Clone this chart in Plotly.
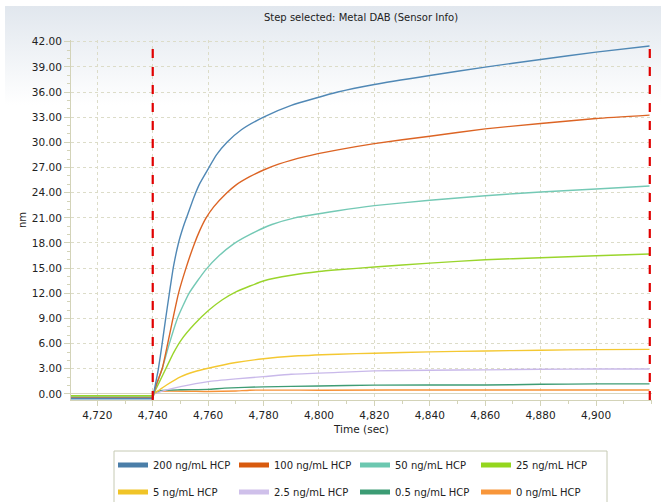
import base64
import plotly.graph_objects as go

# ---------------- data ----------------
series_names = ["200 ng/mL HCP", "100 ng/mL HCP", "50 ng/mL HCP", "25 ng/mL HCP",
                "5 ng/mL HCP", "2.5 ng/mL HCP", "0.5 ng/mL HCP", "0 ng/mL HCP"]

# baseline level before the association step starts (nm)
baseline_t = [4710.5, 4739.9, 4740.3]
baseline_200 = [-0.55, -0.55, 0.0]
baseline_100 = [-0.50, -0.50, 0.0]
baseline_50 = [-0.40, -0.40, 0.0]
baseline_25 = [-0.22, -0.22, 0.0]
baseline_5 = [-0.30, -0.30, 0.0]
baseline_2_5 = [-0.35, -0.35, 0.0]
baseline_0_5 = [-0.45, -0.45, 0.0]
baseline_0 = [-0.30, -0.30, 0.0]

t_200 = [4740.3, 4741.0, 4742.0, 4743.4, 4744.5, 4746.0, 4747.5, 4749.3, 4751.0, 4752.3,
         4754.8, 4757.0, 4760.3, 4763.0, 4766.8, 4772.0, 4780.0, 4790.0, 4806.8, 4820.0,
         4840.0, 4860.0, 4880.0, 4900.0, 4919.3]
v_200 = [0.0, 1.2, 2.9, 6.0, 8.6, 12.0, 15.2, 18.0, 19.9, 21.1,
         23.4, 25.1, 27.0, 28.5, 30.0, 31.5, 33.0, 34.4, 36.0, 36.9,
         37.97, 38.97, 39.88, 40.76, 41.48]

t_100 = [4740.3, 4741.5, 4743.4, 4745.4, 4747.3, 4749.3, 4752.0, 4754.9, 4757.0, 4759.1,
         4762.0, 4766.5, 4770.0, 4775.0, 4780.0, 4785.4, 4795.0, 4806.8, 4820.0, 4840.0,
         4860.0, 4880.0, 4900.0, 4919.3]
v_100 = [0.0, 1.3, 3.0, 6.0, 9.0, 12.0, 15.0, 17.8, 19.5, 20.9,
         22.3, 23.9, 24.9, 25.9, 26.7, 27.4, 28.3, 29.1, 29.85, 30.73,
         31.61, 32.24, 32.84, 33.24]

t_50 = [4740.3, 4741.5, 4743.4, 4746.0, 4748.9, 4753.1, 4759.1, 4764.0, 4769.2, 4775.0,
        4783.0, 4791.3, 4806.8, 4820.0, 4840.0, 4860.0, 4880.0, 4900.0, 4919.3]
v_50 = [0.0, 1.2, 3.0, 6.0, 9.0, 12.0, 14.8, 16.5, 17.9, 19.0,
        20.2, 21.0, 21.85, 22.45, 23.09, 23.64, 24.08, 24.44, 24.8]

t_25 = [4740.3, 4742.5, 4745.0, 4747.5, 4750.2, 4755.0, 4760.3, 4765.0, 4770.2, 4780.2,
        4790.0, 4800.0, 4806.8, 4820.0, 4840.0, 4860.0, 4880.0, 4900.0, 4919.3]
v_25 = [0.0, 1.5, 3.2, 4.9, 6.4, 8.3, 10.0, 11.2, 12.2, 13.5,
        14.15, 14.6, 14.8, 15.13, 15.6, 16.0, 16.24, 16.48, 16.68]

t_5 = [4740.3, 4742.5, 4745.0, 4750.2, 4755.0, 4760.0, 4770.0, 4780.0, 4790.0, 4806.8,
       4820.0, 4840.0, 4860.0, 4880.0, 4900.0, 4919.3]
v_5 = [0.0, 0.5, 1.07, 2.07, 2.65, 3.07, 3.75, 4.2, 4.5, 4.74,
       4.86, 5.02, 5.13, 5.21, 5.29, 5.32]

t_2_5 = [4740.3, 4745.0, 4750.0, 4760.0, 4770.0, 4780.0, 4790.0, 4806.8, 4820.0, 4840.0,
         4860.0, 4880.0, 4900.0, 4919.3]
v_2_5 = [0.0, 0.48, 0.87, 1.47, 1.8, 2.07, 2.35, 2.57, 2.75, 2.83,
         2.87, 2.95, 2.97, 2.97]

t_0_5 = [4740.3, 4743.0, 4750.0, 4760.0, 4766.0, 4780.0, 4800.0, 4820.0, 4860.0, 4880.0,
         4900.0, 4919.3]
v_0_5 = [0.0, 0.4, 0.5, 0.55, 0.7, 0.85, 0.95, 1.05, 1.07, 1.15, 1.2, 1.2]

t_0 = [4740.3, 4741.5, 4760.0, 4770.0, 4775.0, 4800.0, 4850.0, 4919.3]
v_0 = [0.0, 0.3, 0.3, 0.35, 0.45, 0.45, 0.48, 0.48]

step_times = [4740.0, 4919.4]

x_ticks = [4720, 4740, 4760, 4780, 4800, 4820, 4840, 4860, 4880, 4900]
y_ticks = [0, 3, 6, 9, 12, 15, 18, 21, 24, 27, 30, 33, 36, 39, 42]

line_colors = ["#5088b5", "#dc6424", "#74c9b5", "#9ad52c",
               "#f4c832", "#c9b9ea", "#3e9c74", "#f79238"]
legend_colors = ["#4a7ea8", "#d85a0e", "#6cc8b0", "#94d61e",
                 "#f0c428", "#cfc0ea", "#3c9c74", "#f8963a"]

# ---------------- figure ----------------
W, H = 661, 502
ML, MR, MT, MB = 71, 9, 40, 102
PW, PH = W - ML - MR, H - MT - MB
PLOT_BOTTOM = H - MB


def px_x(p):
    return (p - ML) / PW


def px_y(p):
    return (PLOT_BOTTOM - p) / PH


fig = go.Figure()

series = [
    (baseline_200, t_200, v_200),
    (baseline_100, t_100, v_100),
    (baseline_50, t_50, v_50),
    (baseline_25, t_25, v_25),
    (baseline_5, t_5, v_5),
    (baseline_2_5, t_2_5, v_2_5),
    (baseline_0_5, t_0_5, v_0_5),
    (baseline_0, t_0, v_0),
]

# baselines first (thin band), then association curves, low concentrations underneath
for i in reversed(range(len(series))):
    base, ts, vs = series[i]
    fig.add_trace(go.Scatter(x=baseline_t, y=base, mode="lines",
                             line=dict(color=line_colors[i], width=1.8),
                             showlegend=False, hoverinfo="skip"))
for i in reversed(range(len(series))):
    base, ts, vs = series[i]
    fig.add_trace(go.Scatter(x=ts, y=vs, mode="lines",
                             line=dict(color=line_colors[i], width=1.4, shape="spline", smoothing=0.5),
                             showlegend=False, hoverinfo="skip"))

# legend entries: two rows, each its own legend
for i, name in enumerate(series_names):
    fig.add_trace(go.Scatter(x=[None], y=[None], mode="lines", name=name,
                             legend="legend" if i < 4 else "legend2",
                             line=dict(color=legend_colors[i], width=5)))

# red dashed step boundaries
for st in step_times:
    fig.add_shape(type="line", xref="x", yref="paper", x0=st, x1=st, y0=0, y1=1,
                  line=dict(color="#e00000", width=2.2, dash="dash"), layer="above")

# legend frame
fig.add_shape(type="rect", xref="paper", yref="paper",
              x0=px_x(114), x1=px_x(607), y0=px_y(451), y1=px_y(510),
              line=dict(color="#c6cab4", width=1), fillcolor="white", layer="below")

# gradient background panel
svg = ('<svg xmlns="http://www.w3.org/2000/svg" width="100" height="100" preserveAspectRatio="none">'
       '<defs><linearGradient id="g" x1="0" y1="0" x2="0" y2="1">'
       '<stop offset="0" stop-color="#e1e7ee"/><stop offset="0.2" stop-color="#ffffff"/>'
       '<stop offset="1" stop-color="#ffffff"/></linearGradient></defs>'
       '<rect width="100" height="100" fill="url(#g)"/></svg>')
src = "data:image/svg+xml;base64," + base64.b64encode(svg.encode()).decode()
px0, py0 = 5, 6
fig.add_layout_image(dict(source=src, xref="paper", yref="paper",
                          x=px_x(px0), y=px_y(py0),
                          sizex=(W - px0) / PW, sizey=(H - py0) / PH,
                          xanchor="left", yanchor="top", sizing="stretch", layer="below"))

axis_col = "#d3d3b8"
grid_col = "#dcdcc8"
font_fam = "DejaVu Sans"

legend_common = dict(orientation="h", xanchor="left", yanchor="middle",
                     bgcolor="rgba(0,0,0,0)", borderwidth=0,
                     entrywidth=76, entrywidthmode="pixels",
                     font=dict(size=10, color="#222"), itemwidth=30)

fig.update_layout(
    width=W, height=H,
    margin=dict(l=ML, r=MR, t=MT, b=MB, autoexpand=False),
    paper_bgcolor="white", plot_bgcolor="rgba(0,0,0,0)",
    font=dict(family=font_fam, size=10, color="#222222"),
    title=dict(text="Step selected: Metal DAB (Sensor Info)", x=361 / W, xanchor="center",
               y=1 - 17 / H, yanchor="middle", font=dict(family=font_fam, size=10, color="#222222")),
    xaxis=dict(range=[4710.5, 4920.2], tickvals=x_ticks, tickformat=",",
               showgrid=True, gridcolor=grid_col, griddash="dot", gridwidth=1,
               showline=True, linecolor=axis_col, linewidth=1,
               ticks="outside", ticklen=5, tickcolor=axis_col,
               minor=dict(dtick=10, ticks="outside", ticklen=3, tickcolor=axis_col, showgrid=False),
               zeroline=False, tickfont=dict(size=10.5, color="#222"),
               title=dict(text="Time (sec)", standoff=6, font=dict(size=10.5))),
    yaxis=dict(range=[-0.72, 42.2], tickvals=y_ticks, tickformat=".2f",
               showgrid=True, gridcolor=grid_col, griddash="dot", gridwidth=1,
               showline=True, linecolor=axis_col, linewidth=1,
               ticks="outside", ticklen=6, tickcolor=axis_col,
               minor=dict(dtick=1, ticks="outside", ticklen=3, tickcolor=axis_col, showgrid=False),
               zeroline=True, zerolinecolor="#d6d6c0", zerolinewidth=1,
               tickfont=dict(size=10.5, color="#222"),
               title=dict(text="nm", standoff=3, font=dict(size=10))),
    legend=dict(x=px_x(113), y=px_y(465), **legend_common),
    legend2=dict(x=px_x(113), y=px_y(492), **legend_common),
)

fig.write_html("out.html")
